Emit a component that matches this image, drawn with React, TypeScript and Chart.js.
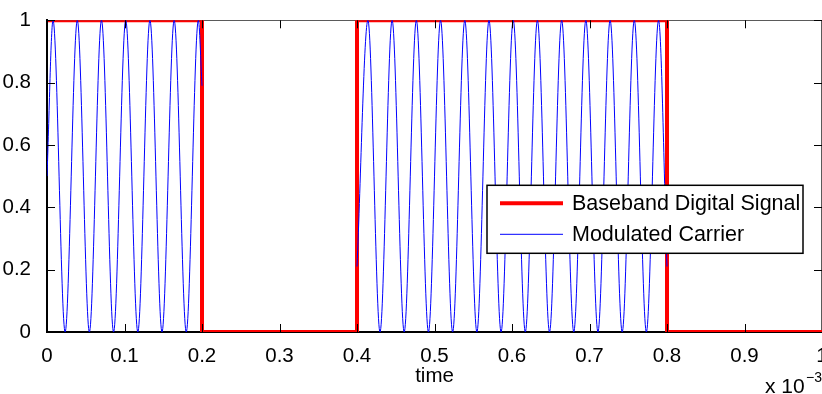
import React, { useEffect, useRef } from 'react';
import { Chart, registerables } from 'chart.js';

Chart.register(...registerables);

// Baseband digital signal (time in ms, i.e. x 10^-3 s)
const basebandTime = [0, 0.2, 0.2, 0.4, 0.4, 0.8, 0.8, 1.0];
const basebandLevel = [1, 1, 0, 0, 1, 1, 0, 0];

// Modulated carrier: start / peaks / troughs / end points
// (null level = carrier off, gap in the line)
const carrierTime = [
  0, 0.0078, 0.0234, 0.0391, 0.0547, 0.0703, 0.0859, 0.1016, 0.1172, 0.1328, 0.1484, 0.1641, 0.1797, 0.1953, 0.2,
  0.3,
  0.4, 0.4141, 0.4297, 0.4453, 0.4609, 0.4766, 0.4922, 0.5078, 0.5234, 0.5391, 0.5547, 0.5703, 0.5859, 0.6016,
  0.6172, 0.6328, 0.6484, 0.6641, 0.6797, 0.6953, 0.7109, 0.7266, 0.7422, 0.7578, 0.7734, 0.7891, 0.8,
];
const carrierLevel = [
  0.5, 1, 0, 1, 0, 1, 0, 1, 0, 1, 0, 1, 0, 1, 0.79,
  null,
  0.21, 1, 0, 1, 0, 1, 0, 1, 0, 1, 0, 1, 0, 1,
  0, 1, 0, 1, 0, 1, 0, 1, 0, 1, 0, 1, 0.21,
];

const xTickValues = [0, 0.1, 0.2, 0.3, 0.4, 0.5, 0.6, 0.7, 0.8, 0.9, 1];
const yTickValues = [0, 0.2, 0.4, 0.6, 0.8, 1];

const seriesLabels = ['Baseband Digital Signal', 'Modulated Carrier'];
const xAxisTitle = 'time';
const xExponentBase = 'x 10';
const xExponent = '\u22123';

const FONT = '"Liberation Sans", Arial, Helvetica, sans-serif';

const matlabPlugin = {
  id: 'matlabDecor',
  beforeDatasetsDraw(chart: any) {
    const { ctx, chartArea } = chart;
    const { left, right, top, bottom } = chartArea;
    ctx.save();
    ctx.strokeStyle = '#5a5a5a';
    ctx.lineWidth = 1;
    ctx.beginPath();
    ctx.moveTo(left, Math.round(top) + 0.5);
    ctx.lineTo(right, Math.round(top) + 0.5);
    ctx.moveTo(Math.round(right) - 0.5, top);
    ctx.lineTo(Math.round(right) - 0.5, bottom);
    ctx.stroke();
    ctx.restore();
  },
  afterDatasetsDraw(chart: any) {
    const { ctx, chartArea, scales } = chart;
    const { left, right, top, bottom } = chartArea;
    const len = 8;
    ctx.save();
    ctx.strokeStyle = '#000';
    ctx.lineWidth = 1;
    ctx.beginPath();
    scales.x.ticks.forEach((t: any) => {
      const px = Math.round(scales.x.getPixelForValue(t.value)) + 0.5;
      ctx.moveTo(px, bottom);
      ctx.lineTo(px, bottom - len);
      ctx.moveTo(px, top);
      ctx.lineTo(px, top + len);
    });
    scales.y.ticks.forEach((t: any) => {
      const py = Math.round(scales.y.getPixelForValue(t.value)) + 0.5;
      ctx.moveTo(left, py);
      ctx.lineTo(left + len, py);
      ctx.moveTo(right, py);
      ctx.lineTo(right - len, py);
    });
    ctx.stroke();
    ctx.restore();
  },
  afterDraw(chart: any) {
    const { ctx, chartArea } = chart;
    const datasets = chart.data.datasets;
    ctx.save();
    // Legend box
    const boxRight = chartArea.right - 19;
    const boxLeft = boxRight - 316;
    const boxTop = chartArea.top + 165;
    const boxH = 68;
    ctx.fillStyle = '#fff';
    ctx.fillRect(boxLeft, boxTop, boxRight - boxLeft, boxH);
    ctx.strokeStyle = '#000';
    ctx.lineWidth = 1.5;
    ctx.strokeRect(boxLeft, boxTop, boxRight - boxLeft, boxH);
    ctx.font = `21.5px ${FONT}`;
    ctx.textBaseline = 'middle';
    ctx.textAlign = 'left';
    const rowsY = [boxTop + 18, boxTop + 49];
    datasets.forEach((ds: any, i: number) => {
      const y = rowsY[i];
      ctx.strokeStyle = ds.borderColor;
      ctx.lineWidth = ds.borderWidth;
      ctx.beginPath();
      ctx.moveTo(boxLeft + 13, y);
      ctx.lineTo(boxLeft + 76, y);
      ctx.stroke();
      ctx.fillStyle = '#000';
      ctx.fillText(ds.label, boxLeft + 85, y + 1);
    });
    // x 10^-3 exponent label
    ctx.textBaseline = 'alphabetic';
    ctx.fillStyle = '#000';
    ctx.font = `21px ${FONT}`;
    ctx.fillText(xExponentBase, 765, 393);
    ctx.font = `14px ${FONT}`;
    ctx.fillText(xExponent, 806, 382);
    ctx.restore();
  },
};

export default function App() {
  const canvasRef = useRef<HTMLCanvasElement | null>(null);

  useEffect(() => {
    const canvas = canvasRef.current;
    if (!canvas) return;
    const baseband = basebandTime.map((t, i) => ({ x: t, y: basebandLevel[i] }));
    const carrier = carrierTime.map((t, i) => ({ x: t, y: carrierLevel[i] }));

    const chart = new Chart(canvas, {
      type: 'line',
      data: {
        datasets: [
          {
            label: seriesLabels[0],
            data: baseband,
            borderColor: '#ff0000',
            borderWidth: 4,
            pointRadius: 0,
            tension: 0,
            order: 2,
          },
          {
            label: seriesLabels[1],
            data: carrier as any,
            borderColor: '#0000ff',
            borderWidth: 1,
            pointRadius: 0,
            cubicInterpolationMode: 'monotone',
            spanGaps: false,
            order: 1,
          },
        ],
      },
      options: {
        animation: false,
        responsive: false,
        devicePixelRatio: 1,
        layout: { padding: { top: 20, left: 0, right: 0, bottom: 0 } },
        plugins: {
          legend: { display: false },
          tooltip: { enabled: false },
        },
        scales: {
          x: {
            type: 'linear',
            min: 0,
            max: 1,
            afterBuildTicks: (scale: any) => {
              scale.ticks = xTickValues.map((v) => ({ value: v }));
            },
            ticks: {
              autoSkip: false,
              maxRotation: 0,
              padding: 4,
              color: '#000',
              font: { family: FONT, size: 20.5 },
              callback: (v: any) => String(Number(Number(v).toFixed(1))),
            },
            grid: { display: false },
            border: { display: true, color: '#000', width: 2 },
            title: {
              display: true,
              text: xAxisTitle,
              color: '#000',
              font: { family: FONT, size: 20.5 },
              padding: { top: 0, bottom: 5 },
            },
            afterFit: (scale: any) => {
              scale.height = 62;
              scale.paddingLeft = 0;
              scale.paddingRight = 0;
            },
          },
          y: {
            type: 'linear',
            min: 0,
            max: 1,
            afterBuildTicks: (scale: any) => {
              scale.ticks = yTickValues.map((v) => ({ value: v }));
            },
            ticks: {
              padding: 8,
              color: '#000',
              font: { family: FONT, size: 20.5 },
              callback: (v: any) => String(Number(Number(v).toFixed(1))),
            },
            grid: { display: false },
            border: { display: true, color: '#000', width: 2 },
            afterFit: (scale: any) => {
              scale.width = 47;
            },
          },
        },
      },
      plugins: [matlabPlugin],
    } as any);

    return () => chart.destroy();
  }, []);

  return (
    <div style={{ position: 'absolute', left: 0, top: 0, width: 822, height: 394, background: '#fff' }}>
      <canvas ref={canvasRef} width={822} height={394} style={{ display: 'block' }} />
    </div>
  );
}
